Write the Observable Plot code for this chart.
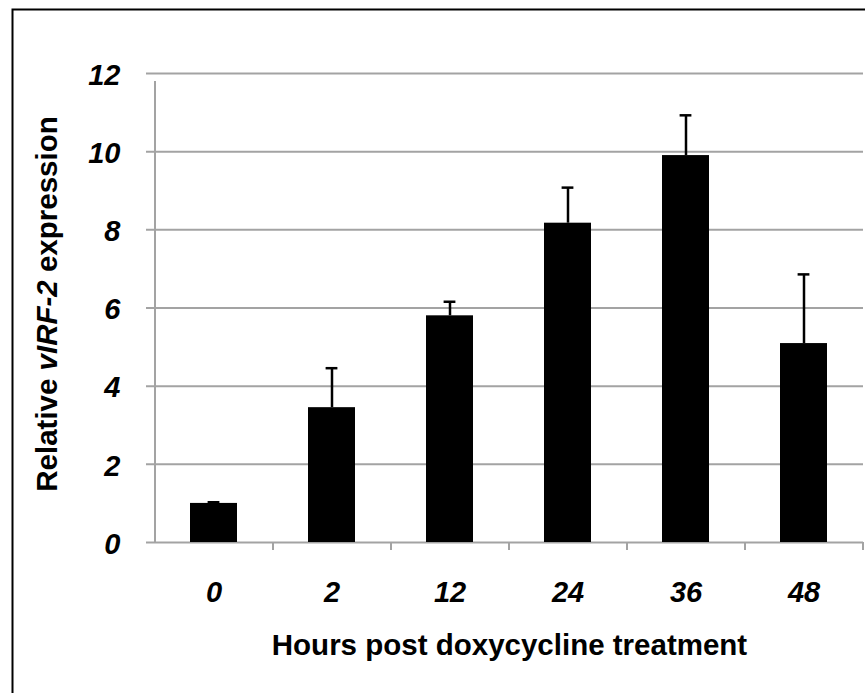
<!DOCTYPE html>
<html>
<head>
<meta charset="utf-8">
<script src="https://cdn.jsdelivr.net/npm/d3@7"></script>
<script src="https://cdn.jsdelivr.net/npm/@observablehq/plot@0.6"></script>
<style>
  html, body { margin: 0; padding: 0; background: #fff; }
  #chart { width: 865px; height: 693px; overflow: hidden; }
  #chart svg { font-family: "Liberation Sans", Arial, sans-serif; }
</style>
</head>
<body>
<div id="chart"></div>
<script>
// Time points (hours after doxycycline) and mean relative vIRF-2 expression
const hours = ["0", "2", "12", "24", "36", "48"];
const expression = [1.0, 3.45, 5.80, 8.17, 9.90, 5.09];
// Upper error bar length (SD)
const errorUpper = [0.03, 1.01, 0.36, 0.91, 1.03, 1.77];
// Y-axis ticks
const yTicks = [0, 2, 4, 6, 8, 10, 12];

const xTitle = "Hours post doxycycline treatment";
const yTitle = "Relative vIRF-2 expression";

const rows = hours.map((h, i) => ({hour: h, value: expression[i], err: errorUpper[i]}));

const grid = "#a3a3a3";
const step = 118; // band step in px, for boundary ticks between categories

const chart = Plot.plot({
  width: 865,
  height: 693,
  marginLeft: 155,
  marginRight: 2,
  marginTop: 73,
  marginBottom: 151,
  style: {background: "white", overflow: "visible"},
  x: {type: "band", domain: hours, paddingInner: 0.6, paddingOuter: 0.3, axis: null},
  y: {domain: [0, 12], axis: null},
  marks: [
    // outer figure border
    Plot.frame({stroke: "black", strokeWidth: 2, insetLeft: -143, insetTop: -64, insetRight: -40, insetBottom: -200}),
    // horizontal gridlines (extending left as tick marks)
    Plot.ruleY(yTicks, {stroke: grid, strokeWidth: 2, insetLeft: -9}),
    // vertical axis line
    Plot.ruleX([hours[0]], {x: d => d, dx: -step / 2, y1: 0, y2: 12, insetBottom: -8, stroke: grid, strokeWidth: 2}),
    // category boundary ticks below the baseline
    Plot.ruleX(hours, {x: d => d, dx: step / 2, insetTop: 469, insetBottom: -8, stroke: grid, strokeWidth: 2}),
    // bars
    Plot.barY(rows, {x: "hour", y: "value", fill: "black"}),
    // error bars
    Plot.ruleX(rows, {x: "hour", y1: "value", y2: d => d.value + d.err, stroke: "black", strokeWidth: 2.5}),
    Plot.tickY(rows, {x: "hour", y: d => d.value + d.err, stroke: "black", strokeWidth: 2.5, insetLeft: 17.6, insetRight: 17.6}),
    // y tick labels
    Plot.text(yTicks, {y: d => d, text: d => String(d), frameAnchor: "left", textAnchor: "end", dx: -35, dy: 2,
      fontSize: 29, fontWeight: "bold", fontStyle: "italic", fill: "black"}),
    // x tick labels
    Plot.text(hours, {x: d => d, text: d => d, frameAnchor: "bottom", dy: 59,
      fontSize: 29, fontWeight: "bold", fontStyle: "italic", fill: "black"}),
    // x-axis title
    Plot.text([xTitle], {frameAnchor: "bottom", dy: 112, fontSize: 29.5, fontWeight: "bold", fill: "black"}),
    // y-axis title
    Plot.text([yTitle], {frameAnchor: "left", textAnchor: "middle", dx: -108, dy: -4, rotate: -90,
      fontSize: 29.5, fontWeight: "bold", fill: "black"})
  ]
});

// Italicise the gene name inside the y-axis title
d3.select(chart).selectAll("text").filter(function () { return this.textContent === yTitle; })
  .each(function () {
    const t = d3.select(this);
    t.text(null);
    t.append("tspan").text("Relative ");
    t.append("tspan").attr("font-style", "italic").text("vIRF-2");
    t.append("tspan").text(" expression");
  });

document.getElementById("chart").appendChild(chart);
</script>
</body>
</html>
